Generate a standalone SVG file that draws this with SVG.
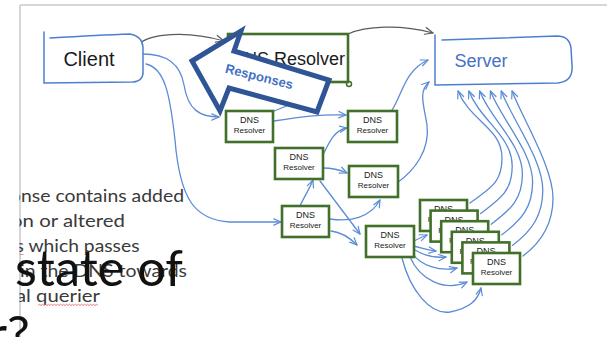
<svg xmlns="http://www.w3.org/2000/svg" width="611" height="337" viewBox="0 0 611 337">
<style>
.frame{stroke:#c9c9c9;stroke-width:1.5;fill:none}
.bl{fill:none;stroke:#5b8bd6;stroke-width:1.3;stroke-linecap:round}
.gr{fill:none;stroke:#5a5a5a;stroke-width:1.2;stroke-linecap:round}
.gbox{fill:#fff;stroke:#41702a;stroke-width:2.6}
.bbox{fill:#fff;stroke:#4d7fd0;stroke-width:1.5;stroke-linecap:round}
.t1{font-family:"Liberation Sans",Arial,sans-serif;font-size:9px;fill:#222;text-anchor:middle}
.t2{font-family:"Liberation Sans",Arial,sans-serif;font-size:8px;fill:#222;text-anchor:middle}
.slide{font-family:Lato,"Open Sans",sans-serif;font-size:18px;fill:#3a3a3a}
.big{font-family:Lato,"Open Sans",sans-serif;font-size:51px;fill:#111}
.sq{fill:none;stroke:#e46a6a;stroke-width:0.9}
</style>
<defs>
<marker id="ab" viewBox="0 0 10 10" refX="9" refY="5" markerWidth="9" markerHeight="9" markerUnits="userSpaceOnUse" orient="auto">
<path d="M1,1.5 L9,5 L1,8.5" fill="none" stroke="#5b8bd6" stroke-width="1.3" stroke-linecap="round" stroke-linejoin="round"/>
</marker>
<marker id="ag" viewBox="0 0 10 10" refX="9" refY="5" markerWidth="10" markerHeight="10" markerUnits="userSpaceOnUse" orient="auto">
<path d="M1,1.5 L9,5 L1,8.5" fill="none" stroke="#5a5a5a" stroke-width="1.2" stroke-linecap="round" stroke-linejoin="round"/>
</marker>
<clipPath id="clipL"><rect x="19.5" y="0" width="600" height="337"/></clipPath>
</defs>
<rect width="611" height="337" fill="#fff"/>
<path class="frame" d="M20,5 L607,5 M20,5 L20,337"/>

<g id="slide-text">
<g clip-path="url(#clipL)">
<text class="slide" x="10" y="202" textLength="174" lengthAdjust="spacingAndGlyphs">onse contains added</text>
<text class="slide" x="11" y="227" textLength="114" lengthAdjust="spacingAndGlyphs">on or altered</text>
<text class="slide" x="15.5" y="252" textLength="124" lengthAdjust="spacingAndGlyphs">s which passes</text>
<text class="slide" x="20" y="277" textLength="167" lengthAdjust="spacingAndGlyphs">in the DNS towards</text>
<text class="slide" x="16" y="302" textLength="84" lengthAdjust="spacingAndGlyphs">al querier</text>
</g>
<path class="sq" d="M19.5,255 l1,-1 l1,1 l1,-1 l1,1"/>
<path class="sq" d="M38,305.5 l1.5,-1.2 l1.5,1.2 l1.5,-1.2 l1.5,1.2 l1.5,-1.2 l1.5,1.2 l1.5,-1.2 l1.5,1.2 l1.5,-1.2 l1.5,1.2 l1.5,-1.2 l1.5,1.2 l1.5,-1.2 l1.5,1.2 l1.5,-1.2 l1.5,1.2 l1.5,-1.2 l1.5,1.2 l1.5,-1.2 l1.5,1.2 l1.5,-1.2 l1.5,1.2 l1.5,-1.2 l1.5,1.2 l1.5,-1.2 l1.5,1.2 l1.5,-1.2 l1.5,1.2 l1.5,-1.2 l1.5,1.2 l1.5,-1.2 l1.5,1.2 l1.5,-1.2 l1.5,1.2 l1.5,-1.2 l1.5,1.2 l1.5,-1.2 l1.5,1.2 l1.5,-1.2 l1.5,1.2"/>
</g>

<g id="connectors">
<path class="gr" d="M139,44 C150,34 185,30 224,41" marker-end="url(#ag)"/>
<path class="gr" d="M348,34 C365,26 400,24 433,33" marker-end="url(#ag)"/>
<path class="bl" d="M143,54 C165,54 180,62 184,85 C188,110 200,117 219,117" marker-end="url(#ab)"/>
<path class="bl" d="M146,64 C165,68 170,95 175,140 C180,200 195,220 230,222 L281,222" marker-end="url(#ab)"/>
<path class="bl" d="M274,121 C300,117 320,114 346,115" marker-end="url(#ab)"/>
<path class="bl" d="M274,111 Q290,105 305,98"/>
<path class="bl" d="M392,110 C402,95 405,70 428,60" marker-end="url(#ab)"/>
<path class="bl" d="M397,183 C415,170 430,150 427,125 C424,105 418,92 429,82" marker-end="url(#ab)"/>
<path class="bl" d="M322,157 C330,140 335,130 347,128" marker-end="url(#ab)"/>
<path class="bl" d="M323,168 C333,168 340,170 347,173" marker-end="url(#ab)"/>
<path class="bl" d="M300,206 C305,195 310,188 313,180" marker-end="url(#ab)"/>
<path class="bl" d="M320,181 L360,234" marker-end="url(#ab)"/>
<path class="bl" d="M330,219 C350,222 370,218 380,200" marker-end="url(#ab)"/>
<path class="bl" d="M331,231 C340,232 350,238 357,245" marker-end="url(#ab)"/>
<path class="bl" d="M414,241 C418,239 422,237 427,235" marker-end="url(#ab)"/>
<path class="bl" d="M414,246 C422,248 428,250 436,251" marker-end="url(#ab)"/>
<path class="bl" d="M415,250 C425,256 435,258 446,257" marker-end="url(#ab)"/>
<path class="bl" d="M413,254 C420,265 440,272 457,268" marker-end="url(#ab)"/>
<path class="bl" d="M410,257 C420,280 445,292 467,282" marker-end="url(#ab)"/>
<path class="bl" d="M402,258 C410,290 430,315 450,312 C470,308 478,300 481,288" marker-end="url(#ab)"/>
<path class="bl" d="M470,203 C490,188 502,183 502,158 C502,128 470,121 458,91" marker-end="url(#ab)"/>
<path class="bl" d="M480.6,213.6 C500.6,198.6 512.2,191 512.2,166 C512.2,136 480.8,121 468.8,91" marker-end="url(#ab)"/>
<path class="bl" d="M491.2,224.2 C511.2,209.2 522.4,199 522.4,174 C522.4,144 491.6,121 479.6,91" marker-end="url(#ab)"/>
<path class="bl" d="M501.8,234.8 C521.8,219.8 532.6,207 532.6,182 C532.6,152 502.4,121 490.4,91" marker-end="url(#ab)"/>
<path class="bl" d="M512.4,245.4 C532.4,230.4 542.8,215 542.8,190 C542.8,160 513.2,121 501.2,91" marker-end="url(#ab)"/>
<path class="bl" d="M523,256 C543,241 553,223 553,198 C553,168 524,121 512,91" marker-end="url(#ab)"/>
</g>

<g id="client">
<path class="bbox" d="M44,32 L44,83 L133,82 Q144,81 143,70 L143,47 Q142,36 130,34 Q100,35 50,38"/>
<text x="89" y="66" font-family="Liberation Sans, Arial, sans-serif" font-size="20" fill="#1a1a1a" text-anchor="middle">Client</text>
</g>

<g id="dns-resolver-main">
<rect class="gbox" x="228" y="34" width="120" height="48"/>
<circle cx="349" cy="84" r="2.5" fill="none" stroke="#41702a" stroke-width="1.5"/>
<text x="231" y="65" font-family="Liberation Sans, Arial, sans-serif" font-size="18" fill="#1a1a1a">DNS Resolver</text>
</g>

<g id="server">
<path class="bbox" d="M435,35 L435,85 L558,83 C568,82 573,76 572,65 L571,48 C570,40 565,36 557,36 L442,40"/>
<text x="481" y="67" font-family="Liberation Sans, Arial, sans-serif" font-size="18" fill="#4472c4" text-anchor="middle">Server</text>
</g>

<g id="r1"><rect class="gbox" x="226" y="111" width="47" height="31"/><text class="t1" x="249.5" y="123">DNS</text><text class="t2" x="249.5" y="133">Resolver</text></g>
<g id="r2"><rect class="gbox" x="348" y="111" width="49" height="31"/><text class="t1" x="372.5" y="123">DNS</text><text class="t2" x="372.5" y="133">Resolver</text></g>
<g id="r3"><rect class="gbox" x="275" y="148" width="48" height="31"/><text class="t1" x="299" y="160">DNS</text><text class="t2" x="299" y="170">Resolver</text></g>
<g id="r4"><rect class="gbox" x="349" y="166" width="49" height="31"/><text class="t1" x="373.5" y="178">DNS</text><text class="t2" x="373.5" y="188">Resolver</text></g>
<g id="r5"><rect class="gbox" x="282" y="206" width="47" height="31"/><text class="t1" x="305.5" y="218">DNS</text><text class="t2" x="305.5" y="228">Resolver</text></g>
<g id="r6"><rect class="gbox" x="366" y="226" width="48" height="31"/><text class="t1" x="390" y="238">DNS</text><text class="t2" x="390" y="248">Resolver</text></g>

<g id="s1"><rect class="gbox" x="420" y="200" width="47" height="31"/><text class="t1" x="443.5" y="212">DNS</text><text class="t2" x="443.5" y="222">Resolver</text></g>
<g id="s2"><rect class="gbox" x="430.6" y="210.6" width="47" height="31"/><text class="t1" x="454.1" y="222.6">DNS</text><text class="t2" x="454.1" y="232.6">Resolver</text></g>
<g id="s3"><rect class="gbox" x="441.2" y="221.2" width="47" height="31"/><text class="t1" x="464.7" y="233.2">DNS</text><text class="t2" x="464.7" y="243.2">Resolver</text></g>
<g id="s4"><rect class="gbox" x="451.8" y="231.8" width="47" height="31"/><text class="t1" x="475.3" y="243.8">DNS</text><text class="t2" x="475.3" y="253.8">Resolver</text></g>
<g id="s5"><rect class="gbox" x="462.4" y="242.4" width="47" height="31"/><text class="t1" x="485.9" y="254.4">DNS</text><text class="t2" x="485.9" y="264.4">Resolver</text></g>
<g id="s6"><rect class="gbox" x="473" y="253" width="47" height="31"/><text class="t1" x="496.5" y="265">DNS</text><text class="t2" x="496.5" y="275">Resolver</text></g>

<g id="responses">
<polygon points="192,61 241,31 234,51 329,80 317,112 229,88 220,111" fill="#fff" stroke="#2f5597" stroke-width="5" stroke-linejoin="miter"/>
<text x="259" y="81" font-family="Liberation Sans, Arial, sans-serif" font-size="13" font-weight="bold" fill="#4472c4" text-anchor="middle" transform="rotate(14 259 77)">Responses</text>
</g>

<g id="big-text">
<text class="big" x="15" y="286" textLength="168" lengthAdjust="spacingAndGlyphs">state of</text>
<text class="big" x="-11.5" y="352">r?</text>
</g>
</svg>
